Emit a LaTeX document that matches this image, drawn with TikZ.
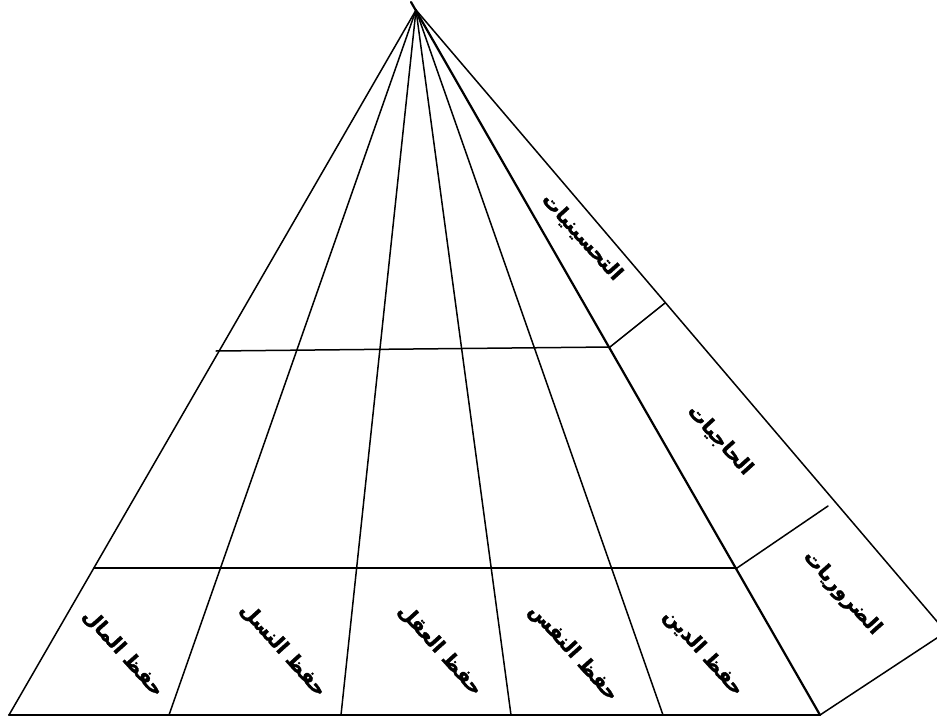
\documentclass[tikz,border=0pt]{standalone}
\usepackage{fontspec}
\newfontfamily\arabicfont[Script=Arabic, FakeBold=1.6]{DejaVu Sans Bold}
\TeXXeTstate=1
\begin{document}
\begin{tikzpicture}[x=1pt,y=-1pt,
  edge/.style={line width=1.5pt, line cap=round},
  thickedge/.style={line width=2.2pt, line cap=round},
  lbl/.style={font=\arabicfont\fontsize{20}{24}\selectfont, rotate=-48, inner sep=0pt}]
\useasboundingbox (0,0) rectangle (937,720);
\clip (0,0) rectangle (937,720);
% points
\coordinate (T) at (411,2);
\coordinate (A) at (416,10);
\coordinate (BL) at (9,715);
\coordinate (B1) at (169,715);
\coordinate (B2) at (341,715);
\coordinate (B3) at (511,715);
\coordinate (B4) at (663,715);
\coordinate (BR) at (820,715);
\coordinate (C) at (946,632);
\coordinate (H1L) at (216,351);
\coordinate (H1R) at (610,347);
\coordinate (H2L) at (94,568);
\coordinate (H2R) at (737,568);
\coordinate (S1) at (665,303);
\coordinate (S2) at (828,506);
% edges
\draw[edge] (A) -- (BL);
\draw[thickedge] (BL) -- (BR);
\draw[edge] (A) -- (B1);
\draw[edge] (A) -- (B2);
\draw[edge] (A) -- (B3);
\draw[edge] (A) -- (B4);
\draw[thickedge] (T) -- (BR);
\draw[edge] (A) -- (C) -- (BR);
\draw[edge] (H1L) -- (H1R);
\draw[edge] (H2L) -- (H2R);
\draw[edge] (H1R) -- (S1);
\draw[edge] (H2R) -- (S2);
% labels
\node[lbl] (t1) at (582,237) {\beginR التحسينيات\endR};
\node[lbl] (t2) at (720,440) {\beginR الحاجيات\endR};
\node[lbl] (t3) at (842,593) {\beginR الضروريات\endR};
\node[lbl] (m1) at (123,653) {\beginR حفظ المال\endR};
\node[lbl] (m2) at (283,650) {\beginR حفظ النسل\endR};
\node[lbl] (m3) at (440,650) {\beginR حفظ العقل\endR};
\node[lbl] (m4) at (573,653) {\beginR حفظ النفس\endR};
\node[lbl] (m5) at (703,653) {\beginR حفظ الدين\endR};
\end{tikzpicture}
\end{document}
